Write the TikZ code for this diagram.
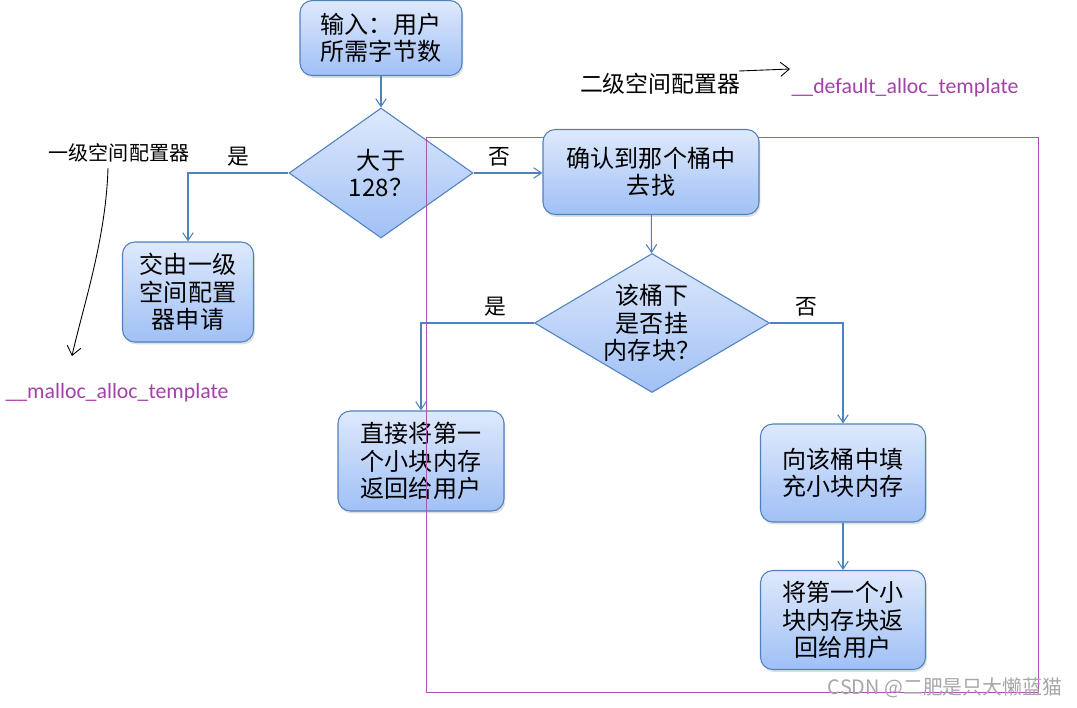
\documentclass[tikz,border=0pt]{standalone}
\usepackage{fontspec}
\setmainfont{Noto Sans CJK SC}
\newfontfamily\latinfont{Carlito}
\usepackage{xcolor}
\usetikzlibrary{shapes.geometric,arrows.meta,shadows,positioning}
\definecolor{flowblue}{RGB}{79,129,189}
\definecolor{boxtop}{RGB}{222,233,252}
\definecolor{boxbot}{RGB}{160,192,245}
\definecolor{tmplpurple}{RGB}{163,65,168}
\def\pxu{0.02cm}
\newcommand\boxfont{\fontsize{13.7}{15.6}\selectfont}
\tikzset{
  flowbox/.style  = {rectangle, rounded corners=7pt, draw=flowblue, line width=0.6pt,
                     top color=boxtop, bottom color=boxbot, align=center, inner sep=0pt,
                     font=\boxfont,
                     drop shadow={shadow xshift=0.8pt, shadow yshift=-1.4pt, opacity=0.25}},
  decide/.style   = {diamond, draw=flowblue, line width=0.6pt, top color=boxtop,
                     bottom color=boxbot, align=center, inner sep=0pt, font=\boxfont},
  flowarr/.style  = {-{Straight Barb[length=4.5pt,width=6pt]}, flowblue, line width=0.6pt},
  yesno/.style    = {font=\fontsize{12.4}{14}\selectfont, text=black},
  annot/.style    = {font=\fontsize{11.4}{13}\selectfont},
  tmpl/.style     = {text=tmplpurple, font=\latinfont\fontsize{12.4}{14}\selectfont},
  hand/.style     = {black, line width=0.5pt, -{Straight Barb[length=5pt,width=8pt]}},
  lvltwo/.style   = {draw=tmplpurple!90, line width=0.5pt},
}
\begin{document}
\begin{tikzpicture}[x=0.02cm, y=-0.02cm]
\useasboundingbox (0,0) rectangle (1077,707);
% main flow, left part
\node[flowbox, minimum width=162*\pxu, minimum height=75*\pxu] (input) at (381,38) {输入：用户\\所需字节数};
\node[decide, minimum width=184*\pxu, minimum height=130*\pxu, aspect=1.415] (big) at (381,173) {大于\\128？};
\node[flowbox, minimum width=131*\pxu, minimum height=100*\pxu] (first) at (188,292) {交由一级\\空间配置\\器申请};
\node[flowbox, minimum width=166*\pxu, minimum height=100*\pxu] (retfirst) at (421,461) {直接将第一\\个小块内存\\返回给用户};
% second level allocator frame
\draw[lvltwo] (426,137) rectangle (1038,692);
\node[flowbox, minimum width=216*\pxu, minimum height=85*\pxu] (bucket) at (651,172) {确认到那个桶中\\去找};
\node[decide, minimum width=235*\pxu, minimum height=139*\pxu, aspect=1.69] (hasblk) at (652,323) {该桶下\\是否挂\\内存块？};
\node[flowbox, minimum width=165*\pxu, minimum height=98*\pxu] (refill) at (843,473) {向该桶中填\\充小块内存};
\node[flowbox, minimum width=165*\pxu, minimum height=99*\pxu] (retnew) at (843,620) {将第一个小\\块内存块返\\回给用户};
% connectors
\draw[flowarr] (input) -- (big);
\draw[flowarr] (big.west) -| node[yesno, pos=0.25, above] {是} (first.north);
\draw[flowarr] (big.east) -- node[yesno, pos=0.38, above] {否} (bucket.west |- big.east);
\draw[flowarr] (bucket) -- (hasblk);
\draw[flowarr] (hasblk.west) -| node[yesno, pos=0.17, above] {是} (retfirst.north);
\draw[flowarr] (hasblk.east) -| node[yesno, pos=0.25, above] {否} (refill.north);
\draw[flowarr] (refill) -- (retnew);
% notes
\node[annot] (lvl1) at (119,153) {一级空间配置器};
\node[tmpl] (malloc) at (117,393) {\_\_malloc\_alloc\_template};
\coordinate (h1s) at (108,168);
\coordinate (h1e) at (72,356);
\draw[hand] (h1s) .. controls (106,240) and (82,310) .. (h1e);
\node[annot, font=\fontsize{13}{15}\selectfont] (lvl2) at (660,84) {二级空间配置器};
\node[tmpl] (dflt) at (905,88) {\_\_default\_alloc\_template};
\coordinate (h2s) at (739,71);
\coordinate (h2e) at (790,69);
\draw[hand] (h2s) -- (h2e);
\node[font=\fontsize{11.3}{13}\selectfont, text=black!35] (mark) at (945,688) {CSDN @二肥是只大懒蓝猫};
\end{tikzpicture}
\end{document}
